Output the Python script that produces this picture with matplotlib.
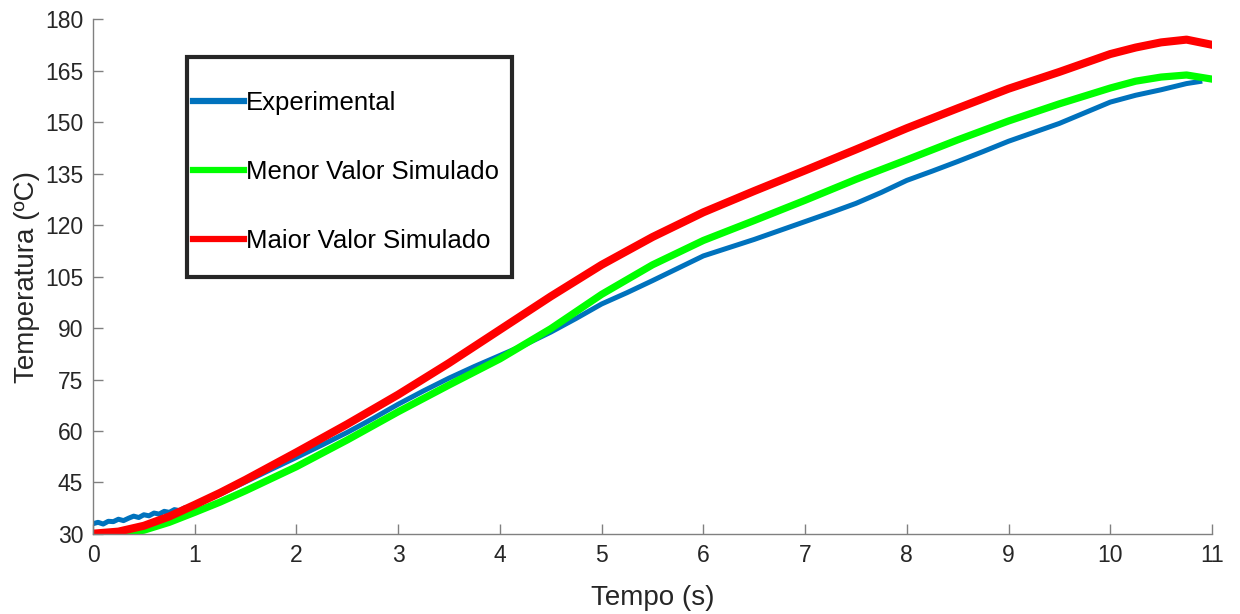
import matplotlib
matplotlib.use("Agg")
import matplotlib.pyplot as plt
from matplotlib.patches import Rectangle

plt.rcParams['font.family'] = ['Liberation Sans', 'DejaVu Sans']

# experimental curve
t_exp = [0.0, 0.05, 0.1, 0.15, 0.2, 0.25, 0.3, 0.35, 0.4, 0.45, 0.5, 0.55, 0.6, 0.65,
         0.7, 0.75, 0.8, 0.85, 0.9, 0.95, 1.0, 1.1, 1.25, 1.5, 1.75, 2.0, 2.25, 2.5,
         2.75, 3.0, 3.25, 3.5, 3.75, 4.0, 4.25, 4.5, 4.75, 5.0, 5.25, 5.5, 5.75, 6.0,
         6.25, 6.5, 6.75, 7.0, 7.25, 7.5, 7.75, 8.0, 8.25, 8.5, 8.75, 9.0, 9.25, 9.5,
         9.75, 10.0, 10.25, 10.5, 10.75, 10.88]
temp_exp = [33.0, 33.4, 32.9, 33.7, 33.6, 34.3, 33.9, 34.6, 35.2, 34.8, 35.6, 35.3, 36.1, 35.8,
            36.6, 36.3, 37.1, 36.8, 37.6, 37.9, 38.6, 39.8, 41.6, 45.2, 48.8, 52.3, 55.9, 59.6,
            63.6, 67.8, 71.7, 75.4, 78.8, 82.0, 85.2, 88.8, 92.8, 97.0, 100.3, 103.8, 107.4, 111.0,
            113.4, 115.8, 118.4, 121.0, 123.6, 126.3, 129.5, 133.0, 135.7, 138.5, 141.4, 144.4, 147.0, 149.6,
            152.7, 155.8, 157.8, 159.4, 161.2, 161.8]

# simulated curves
t_sim = [0.0, 0.25, 0.5, 0.75, 1.0, 1.25, 1.5, 2.0, 2.5, 3.0, 3.5, 4.0, 4.5, 5.0, 5.5, 6.0,
         6.5, 7.0, 7.5, 8.0, 8.5, 9.0, 9.5, 10.0, 10.25, 10.5, 10.75, 11.0]
temp_menor = [29.7, 30.1, 31.1, 33.4, 36.3, 39.3, 42.6, 49.6, 57.4, 65.6, 73.4, 81.0, 89.8, 99.8, 108.4, 115.5,
              121.3, 127.2, 133.3, 139.0, 144.8, 150.3, 155.3, 159.9, 161.9, 163.1, 163.7, 162.5]
temp_maior = [30.1, 30.7, 32.4, 35.1, 38.5, 42.0, 45.8, 53.8, 62.0, 70.6, 79.8, 89.5, 99.2, 108.4, 116.5, 123.7,
              129.9, 135.9, 142.0, 148.2, 154.0, 159.7, 164.6, 169.8, 171.7, 173.2, 174.0, 172.5]

series_labels = ['Experimental', 'Menor Valor Simulado', 'Maior Valor Simulado']
xticks = list(range(0, 12))
yticks = list(range(30, 181, 15))

fig = plt.figure(figsize=(12.4, 6.14), dpi=100)
ax = fig.add_axes([0.075, 0.1303, 0.9024, 0.8387])

ax.plot(t_exp, temp_exp, color='#0072BD', lw=3.6, label=series_labels[0])
ax.plot(t_sim, temp_menor, color='#00FF00', lw=5.2, label=series_labels[1])
ax.plot(t_sim, temp_maior, color='#FF0000', lw=5.8, label=series_labels[2])

ax.set_xlim(0, 11)
ax.set_ylim(30, 180)
ax.set_xticks(xticks)
ax.set_yticks(yticks)

for side in ['top', 'right']:
    ax.spines[side].set_visible(False)
for side in ['left', 'bottom']:
    ax.spines[side].set_color('#808080')
    ax.spines[side].set_linewidth(1.0)
ax.tick_params(direction='in', length=7, width=1.0, color='#808080',
               labelsize=16.5, labelcolor='#262626', pad=7)

ax.set_xlabel('Tempo (s)', fontsize=20, color='#262626')
ax.set_ylabel('Temperatura (ºC)', fontsize=20, color='#262626')
ax.xaxis.set_label_coords(0.5, -0.1)
ax.yaxis.set_label_coords(-0.047, 0.5)

# legend box
box = Rectangle((0.1508, 0.5489), 0.2621, 0.3583, transform=fig.transFigure,
                facecolor='white', edgecolor='#262626', lw=3, zorder=5, clip_on=False)
ax.add_patch(box)
leg = ax.legend(loc='upper left', bbox_to_anchor=(0.1556, 0.8518), bbox_transform=fig.transFigure,
                frameon=False, fontsize=18.5, handlelength=2.0, handletextpad=0.05,
                labelspacing=1.76, borderpad=0, borderaxespad=0)
for line in leg.get_lines():
    line.set_linewidth(4.5)
for text in leg.get_texts():
    text.set_color('#000000')
leg.set_zorder(6)

fig.savefig('out.png', dpi=100)
